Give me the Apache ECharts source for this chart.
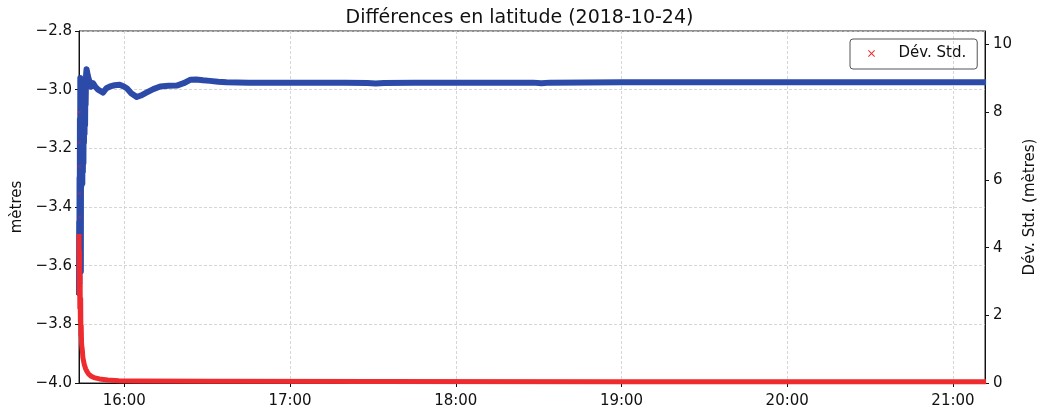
<!DOCTYPE html>
<html>
<head>
<meta charset="utf-8">
<script src="https://cdn.jsdelivr.net/npm/echarts@6/dist/echarts.min.js"></script>
<style>
  html, body { margin: 0; padding: 0; background: #fff; }
  #chart { width: 1039px; height: 418px; }
</style>
</head>
<body>
<div id="chart"></div>
<script>
// Latitude difference (metres) against time of day
const latTimes = [
  '15:43:36','15:43:40','15:43:44','15:43:48','15:43:52','15:43:56','15:44:00','15:44:04',
  '15:44:08','15:44:12','15:44:16','15:44:20','15:44:24','15:44:30','15:44:36','15:44:42',
  '15:44:48','15:44:54','15:45:00','15:45:06','15:45:12','15:45:18','15:45:24','15:45:30',
  '15:45:36','15:45:42','15:45:48','15:45:54','15:46:00','15:46:10','15:46:20','15:46:30',
  '15:46:45','15:47:00','15:47:30','15:48:00','15:48:40','15:49:30','15:50:30','15:52:20',
  '15:53:30','15:54:50','15:56:30','15:58:20','16:00:00','16:01:00','16:02:30','16:04:30',
  '16:06:00','16:08:00','16:10:30','16:13:00','16:16:00','16:19:00','16:21:30','16:24:00',
  '16:26:00','16:28:30','16:31:00','16:34:00','16:37:00','16:45:00','17:00:00','17:20:00',
  '17:28:00','17:31:00','17:34:00','17:45:00','18:00:00','18:28:00','18:31:00','18:34:00',
  '19:00:00','19:30:00','20:00:00','20:30:00','21:00:00','21:12:00'
];
const latValues = [
  -3.70,-3.45,-3.66,-3.30,-3.58,-3.10,-3.50,-2.96,
  -3.40,-3.05,-3.62,-3.20,-3.33,-3.05,-3.30,-3.10,
  -3.32,-3.02,-3.28,-3.08,-3.25,-3.02,-3.18,-3.00,
  -3.15,-3.00,-3.12,-2.99,-3.05,-2.95,-2.93,-2.935,
  -2.95,-2.96,-2.975,-2.99,-2.978,-2.99,-3.00,-3.01,
  -2.995,-2.989,-2.985,-2.983,-2.99,-2.996,-3.012,-3.025,
  -3.02,-3.01,-2.998,-2.989,-2.987,-2.986,-2.978,-2.966,
  -2.965,-2.968,-2.970,-2.973,-2.975,-2.976,-2.976,-2.976,
  -2.977,-2.979,-2.977,-2.976,-2.976,-2.976,-2.978,-2.976,
  -2.975,-2.975,-2.975,-2.975,-2.975,-2.975
];

// Standard deviation (metres), right-hand axis
const stdTimes = [
  '15:43:36','15:43:42','15:43:48','15:43:54','15:44:00','15:44:06','15:44:12','15:44:18',
  '15:44:24','15:44:32','15:44:40','15:44:50','15:45:00','15:45:30','15:46:00','15:46:30',
  '15:47:00','15:48:00','15:49:00','15:51:00','15:54:00','15:58:00','16:05:00','16:30:00',
  '17:30:00','19:00:00','21:12:00'
];
const stdValues = [
  4.4,2.6,3.9,2.2,3.2,1.8,2.5,1.4,
  1.7,1.15,1.05,0.95,0.75,0.55,0.42,0.34,
  0.27,0.20,0.16,0.12,0.09,0.07,0.06,0.05,
  0.045,0.04,0.035
];
// isolated early readings above the main curve
const stdSpikeTimes = ['15:43:36','15:43:40','15:43:44','15:43:48','15:43:52','15:43:56','15:44:00','15:44:04','15:44:10','15:44:16'];
const stdSpikeValues = [8.0, 7.1, 6.4, 5.6, 4.9, 4.3, 3.8, 3.4, 3.1, 2.9];

const hourTicks = [16, 17, 18, 19, 20, 21];
const rightTicks = [0, 2, 4, 6, 8, 10];

function toHours(t) {
  const p = t.split(':').map(Number);
  return p[0] + p[1] / 60 + (p[2] || 0) / 3600;
}
function pairs(times, values) {
  return times.map((t, i) => [toHours(t), values[i]]);
}
const minus = (s) => s.replace('-', '\u2212');

const FONT = 'DejaVu Sans';
const BLUE = '#2c4ba9';
const RED = '#ee2b2f';
const CROSS = 'path://M0,1 L1,0 L5,4 L9,0 L10,1 L6,5 L10,9 L9,10 L5,6 L1,10 L0,9 L4,5 Z';
const gridLine = { show: true, lineStyle: { color: '#cccccc', width: 0.8, type: [3, 2] } };

const chart = echarts.init(document.getElementById('chart'), null, { renderer: 'canvas' });
chart.setOption({
  animation: false,
  backgroundColor: '#ffffff',
  textStyle: { fontFamily: FONT },
  title: {
    text: 'Différences en latitude (2018-10-24)',
    left: 'center',
    top: 4,
    textStyle: { fontFamily: FONT, fontSize: 19, fontWeight: 'normal', color: '#111' }
  },
  legend: {
    data: [{ name: 'Dév. Std.', icon: CROSS, itemStyle: { color: RED } }],
    left: 850,
    top: 39,
    itemWidth: 36,
    itemHeight: 7,
    padding: [7, 11, 8, 18],
    borderColor: '#555',
    borderWidth: 1,
    borderRadius: 3,
    textStyle: { fontFamily: FONT, fontSize: 15, color: '#111', padding: [0, 0, 0, 4] }
  },
  grid: {
    left: 79, right: 54, top: 31, bottom: 35,
    outerBoundsMode: 'none',
    containLabel: false,
    show: true, borderColor: '#222', borderWidth: 1, backgroundColor: 'transparent'
  },
  xAxis: {
    type: 'value',
    min: toHours('15:43:36'),
    max: toHours('21:11:36'),
    axisLine: { lineStyle: { color: '#111', width: 1 } },
    axisTick: { show: true, length: 4, customValues: hourTicks, lineStyle: { color: '#111' } },
    axisLabel: {
      customValues: hourTicks, margin: 11,
      fontFamily: FONT, fontSize: 15, color: '#111',
      formatter: (v) => Math.round(v) + ':00'
    },
    splitLine: gridLine
  },
  yAxis: [
    {
      type: 'value', position: 'left',
      min: -4.0, max: -2.8, interval: 0.2,
      name: 'mètres', nameLocation: 'middle', nameRotate: 90, nameGap: 54,
      nameTextStyle: { fontFamily: FONT, fontSize: 15, color: '#111' },
      axisLine: { show: true, lineStyle: { color: '#111', width: 1 } },
      axisTick: { show: true, length: 4, lineStyle: { color: '#111' } },
      axisLabel: {
        margin: 7, fontFamily: FONT, fontSize: 15, color: '#111',
        formatter: (v) => minus(v.toFixed(1))
      },
      splitLine: gridLine
    },
    {
      type: 'value', position: 'right',
      min: 0, max: 10.4,
      name: 'Dév. Std. (mètres)', nameLocation: 'middle', nameRotate: 90, nameGap: 38,
      nameTextStyle: { fontFamily: FONT, fontSize: 15, color: '#111' },
      axisLine: { show: true, lineStyle: { color: '#111', width: 1 } },
      axisTick: { show: true, length: 4, customValues: rightTicks, lineStyle: { color: '#111' } },
      axisLabel: {
        customValues: rightTicks, margin: 8,
        fontFamily: FONT, fontSize: 15, color: '#111',
        formatter: (v) => String(v)
      },
      splitLine: { show: false }
    }
  ],
  series: [
    {
      name: 'Latitude',
      type: 'line',
      yAxisIndex: 0,
      data: pairs(latTimes, latValues),
      showSymbol: false,
      lineStyle: { color: BLUE, width: 6, join: 'round' },
      itemStyle: { color: BLUE },
      z: 2
    },
    {
      name: 'Dév. Std.',
      type: 'line',
      yAxisIndex: 1,
      data: pairs(stdTimes, stdValues),
      showSymbol: false,
      lineStyle: { color: RED, width: 5, join: 'round' },
      itemStyle: { color: RED },
      z: 3
    },
    {
      name: 'Dév. Std.',
      type: 'scatter',
      yAxisIndex: 1,
      data: pairs(stdSpikeTimes, stdSpikeValues),
      symbol: CROSS,
      symbolSize: 4,
      itemStyle: { color: RED, opacity: 0.5 },
      z: 4
    }
  ]
});
</script>
</body>
</html>
